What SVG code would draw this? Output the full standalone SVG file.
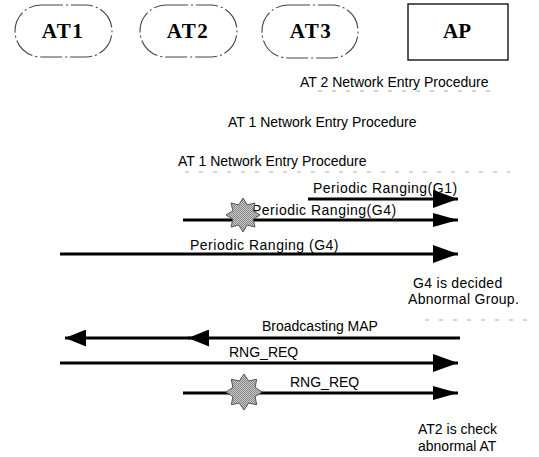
<svg xmlns="http://www.w3.org/2000/svg" width="539" height="457" viewBox="0 0 539 457">
<style>
.node{fill:#fff;stroke:#444;stroke-width:1.1;stroke-dasharray:22 3 2 3}
.ap{fill:#fff;stroke:#222;stroke-width:1.5}
.nlab{font-family:"Liberation Serif",serif;font-weight:bold;font-size:21px;fill:#000;text-anchor:middle}
.lab{font-family:"Liberation Sans",Arial,sans-serif;font-size:14px;fill:#000}
.sp{letter-spacing:0.5px}
.msg{stroke:#000;stroke-width:3;fill:none}
.faint{stroke:#aaa;stroke-width:1;stroke-dasharray:4 10;fill:none}
.star{fill:url(#chk);stroke:#555;stroke-width:1}
</style>
<defs>
<marker id="ah" markerUnits="userSpaceOnUse" markerWidth="25" markerHeight="18" refX="25" refY="9" orient="auto">
<path d="M0,0 L25,9 L0,18 Z" fill="#000"/>
</marker>
<marker id="ahs" markerUnits="userSpaceOnUse" markerWidth="25" markerHeight="14" refX="25" refY="7" orient="auto">
<path d="M0,0 L25,7 L0,14 Z" fill="#000"/>
</marker>
<marker id="ahl" markerUnits="userSpaceOnUse" markerWidth="21" markerHeight="17" refX="21" refY="8.5" orient="auto">
<path d="M0,0 L21,8.5 L0,17 Z" fill="#000"/>
</marker>
<pattern id="chk" patternUnits="userSpaceOnUse" width="2" height="2">
<rect width="2" height="2" fill="#c8c8c8"/>
<rect width="1" height="1" fill="#888"/>
<rect x="1" y="1" width="1" height="1" fill="#888"/>
</pattern>
</defs>

<g id="node-at1">
<rect class="node" x="15" y="5" width="97" height="52" rx="26" ry="26"/>
<text class="nlab" x="63" y="37.5" letter-spacing="1.5">AT1</text>
</g>
<g id="node-at2">
<rect class="node" x="140" y="5" width="97" height="52" rx="26" ry="26"/>
<text class="nlab" x="188" y="37.5" letter-spacing="1.5">AT2</text>
</g>
<g id="node-at3">
<rect class="node" x="262" y="5" width="96" height="53" rx="26" ry="26"/>
<text class="nlab" x="311" y="37.5" letter-spacing="1.5">AT3</text>
</g>
<g id="node-ap">
<rect class="ap" x="408" y="4" width="100" height="56"/>
<text class="nlab" x="457" y="37.5">AP</text>
</g>

<g id="procedures">
<text class="lab" x="300" y="87">AT 2 Network Entry Procedure</text>
<line class="faint" x1="318" y1="91" x2="492" y2="91"/>
<text class="lab" x="228" y="127">AT 1 Network Entry Procedure</text>
<text class="lab" x="178" y="166">AT 1 Network Entry Procedure</text>
<line class="faint" x1="185" y1="172" x2="510" y2="172"/>
<line class="faint" x1="425" y1="320" x2="535" y2="320"/>
</g>

<g id="connectors">
<line class="msg" x1="308" y1="199" x2="458" y2="199" marker-end="url(#ah)"/>
<line class="msg" x1="183" y1="220" x2="458" y2="220" marker-end="url(#ahs)"/>
<line class="msg" x1="60" y1="254" x2="458" y2="254" marker-end="url(#ah)"/>
<line class="msg" x1="460" y1="338" x2="188" y2="338" marker-end="url(#ahl)"/>
<line class="msg" x1="190" y1="338" x2="65" y2="338" marker-end="url(#ahl)"/>
<line class="msg" x1="60" y1="363" x2="458" y2="363" marker-end="url(#ah)"/>
<line class="msg" x1="183" y1="393" x2="458" y2="393" marker-end="url(#ahs)"/>
</g>

<g id="labels">
<text class="lab sp" x="313" y="193">Periodic Ranging(G1)</text>
<text class="lab sp" x="252" y="215">Periodic Ranging(G4)</text>
<text class="lab sp" x="190" y="250">Periodic Ranging (G4)</text>
<text class="lab" x="413" y="288" letter-spacing="0.3">G4 is decided</text>
<text class="lab" x="408" y="304" letter-spacing="0.3">Abnormal Group.</text>
<text class="lab" x="262" y="331">Broadcasting MAP</text>
<text class="lab" x="229" y="357">RNG_REQ</text>
<text class="lab" x="290" y="387">RNG_REQ</text>
<text class="lab" x="418" y="434">AT2 is check</text>
<text class="lab" x="418" y="451">abnormal AT</text>
</g>

<g id="star-1">
<polygon class="star" points="243.0,198.0 247.2,204.9 255.0,203.0 253.1,210.8 260.0,215.0 253.1,219.2 255.0,227.0 247.2,225.1 243.0,232.0 238.8,225.1 231.0,227.0 232.9,219.2 226.0,215.0 232.9,210.8 231.0,203.0 238.8,204.9"/>
</g>
<g id="star-2">
<polygon class="star" points="244.0,374.0 248.6,380.9 256.7,379.3 255.1,387.4 262.0,392.0 255.1,396.6 256.7,404.7 248.6,403.1 244.0,410.0 239.4,403.1 231.3,404.7 232.9,396.6 226.0,392.0 232.9,387.4 231.3,379.3 239.4,380.9"/>
</g>
</svg>
